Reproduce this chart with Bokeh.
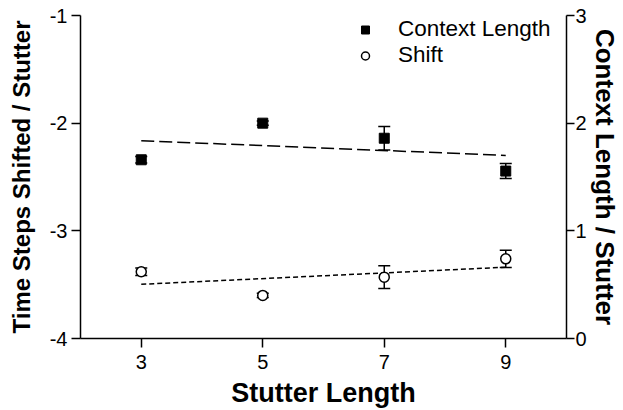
import numpy as np
from bokeh.plotting import figure
from bokeh.models import (Range1d, LinearAxis, FixedTicker, Whisker, TeeHead,
                          ColumnDataSource, Legend, LegendItem)
from bokeh.embed import file_html
from bokeh.resources import INLINE

# ---- data ----
stutter_length = [3, 5, 7, 9]
context_length = [1.66, 2.00, 1.86, 1.555]      # right axis
context_err = [0.03, 0.02, 0.11, 0.07]
shift = [-3.38, -3.60, -3.43, -3.26]            # left axis
shift_err = [0.035, 0.02, 0.105, 0.08]
x_ticks = [3, 5, 7, 9]
left_ticks = [-4, -3, -2, -1]
left_tick_labels = ["-4", "-3", "-2", "-1"]
right_ticks = [0, 1, 2, 3]

FONT = "Liberation Sans"

p = figure(width=623, height=410, output_backend="svg", toolbar_location=None,
           x_range=Range1d(2, 10), y_range=Range1d(-4, -1),
           min_border_left=80, min_border_right=57, min_border_top=15,
           min_border_bottom=71)
p.outline_line_color = None
p.grid.visible = False
p.background_fill_color = "white"
p.border_fill_color = "white"
p.extra_y_ranges = {"ctx": Range1d(0, 3)}

def style_axis(ax, label, label_size):
    ax.axis_label = label
    ax.axis_label_text_font = FONT
    ax.axis_label_text_font_style = "bold"
    ax.axis_label_text_font_size = label_size
    ax.axis_label_text_color = "black"
    ax.major_label_text_font = FONT
    ax.major_label_text_font_size = "20px"
    ax.major_label_text_color = "black"
    ax.axis_line_width = 1.5
    ax.axis_line_color = "black"
    ax.major_tick_line_width = 1.5
    ax.major_tick_line_color = "black"
    ax.major_tick_out = 9
    ax.major_tick_in = 0
    ax.minor_tick_out = 0
    ax.minor_tick_in = 0

xa = p.xaxis[0]
style_axis(xa, "Stutter Length", "27px")
xa.ticker = FixedTicker(ticks=x_ticks)
xa.major_label_standoff = 7
xa.axis_label_standoff = 6

ya = p.yaxis[0]
style_axis(ya, "Time Steps Shifted / Stutter", "24px")
ya.ticker = FixedTicker(ticks=left_ticks)
ya.major_label_overrides = {t: s for t, s in zip(left_ticks, left_tick_labels)}
ya.major_label_standoff = 4
ya.axis_label_standoff = 12

ra = LinearAxis(y_range_name="ctx")
style_axis(ra, "Context Length / Stutter", "26px")
ra.ticker = FixedTicker(ticks=right_ticks)
ra.major_tick_out = 8
ra.major_label_standoff = 1
ra.axis_label_standoff = 0
p.add_layout(ra, "right")

# ---- regression lines computed from data ----
xs = np.array(stutter_length, dtype=float)
c_fit = np.polyfit(xs, np.array(context_length), 1)
s_fit = np.polyfit(xs, np.array(shift), 1)
xfit = np.array([xs.min(), xs.max()])
p.line(xfit, np.polyval(c_fit, xfit), y_range_name="ctx", line_color="black",
       line_width=1.5, line_dash="13 5")
p.line(xfit, np.polyval(s_fit, xfit), line_color="black",
       line_width=1.5, line_dash="5 3")

# ---- error bars ----
csrc = ColumnDataSource(dict(x=stutter_length, y=context_length,
                             lo=[v - e for v, e in zip(context_length, context_err)],
                             hi=[v + e for v, e in zip(context_length, context_err)]))
ssrc = ColumnDataSource(dict(x=stutter_length, y=shift,
                             lo=[v - e for v, e in zip(shift, shift_err)],
                             hi=[v + e for v, e in zip(shift, shift_err)]))
for src, rng in ((csrc, "ctx"), (ssrc, "default")):
    w = Whisker(source=src, base="x", lower="lo", upper="hi", y_range_name=rng,
                line_color="black", line_width=1.5,
                upper_head=TeeHead(size=12, line_width=1.5, line_color="black"),
                lower_head=TeeHead(size=12, line_width=1.5, line_color="black"),
                level="underlay")
    p.add_layout(w)

r_ctx = p.scatter("x", "y", source=csrc, y_range_name="ctx", marker="square",
                  size=10, fill_color="black", line_color="black")
r_sh = p.scatter("x", "y", source=ssrc, marker="circle", size=10,
                 fill_color="white", line_color="black", line_width=1.5)

legend = Legend(items=[LegendItem(label="Context Length", renderers=[r_ctx]),
                       LegendItem(label="Shift", renderers=[r_sh])],
                location=(275, 270))
legend.label_text_font = FONT
legend.label_text_font_size = "22.5px"
legend.label_text_color = "black"
legend.glyph_width = 20
legend.glyph_height = 23
legend.label_height = 23
legend.label_standoff = 23
legend.spacing = 0
legend.padding = 0
legend.margin = 0
legend.border_line_color = None
legend.background_fill_alpha = 0
p.add_layout(legend)

open("out.html", "w").write(file_html(p, INLINE))
